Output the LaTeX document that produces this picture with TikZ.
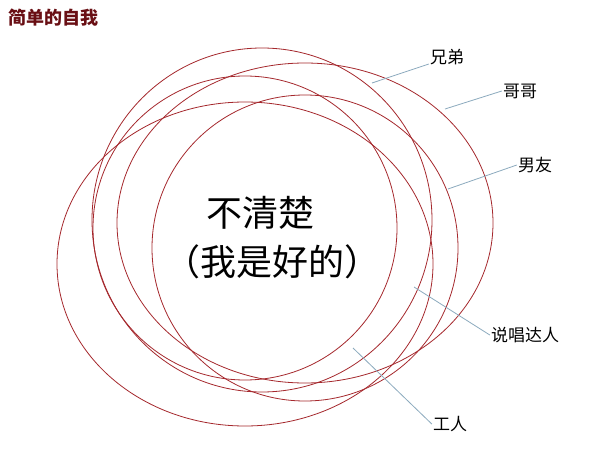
\documentclass[tikz,border=0pt]{standalone}
\usepackage{fontspec}
\newfontfamily\cjk{Noto Sans CJK SC}
\definecolor{ringred}{RGB}{165,40,45}
\definecolor{leadblue}{RGB}{140,170,190}
\definecolor{titlered}{RGB}{105,15,20}
\begin{document}
\begin{tikzpicture}[x=1pt,y=-1pt,
  ring/.style={draw=ringred,line width=0.8pt},
  lead/.style={draw=leadblue,line width=0.8pt},
  lab/.style={font=\cjk\fontsize{17}{17}\selectfont,inner sep=1pt,text=black},
  big/.style={font=\cjk\fontsize{36}{36}\selectfont,inner sep=0pt,text=black}]
\useasboundingbox (0,0) rectangle (600,468);
\fill[white] (0,0) rectangle (600,468);
% title
\node[font=\cjk\bfseries\fontsize{18}{18}\selectfont,text=titlered,anchor=west,inner sep=0pt] (title) at (8,18) {简单的自我};
% ellipses
\draw[ring] (262,220) ellipse [x radius=170pt, y radius=172pt]; % 兄弟
\draw[ring] (305,223) ellipse [x radius=188pt, y radius=160pt]; % 哥哥
\draw[ring] (305,248) ellipse [x radius=153pt, y radius=153pt]; % 男友
\draw[ring] (245,228) ellipse [x radius=152pt, y radius=152pt]; % 工人
\draw[ring] (245,264) ellipse [x radius=188pt, y radius=162pt];
% centre text
\node[big] (t1) at (260,213) {不清楚};
\node[big] (t2) at (272,262) {（我是好的）};
% labels
\node[lab] (xd) at (447,57) {兄弟};
\node[lab] (gg) at (520,91) {哥哥};
\node[lab] (ny) at (535,165) {男友};
\node[lab] (sc) at (525,335) {说唱达人};
\node[lab] (gr) at (450,424) {工人};
\coordinate (pxd) at (372,83);
\coordinate (pgg) at (445,109);
\coordinate (pny) at (448,189);
\coordinate (psc) at (414,287);
\coordinate (pgr) at (353,348);
\draw[lead] ([yshift=2pt]xd.south west) -- (pxd);
\draw[lead] (gg.west) -- (pgg);
\draw[lead] (ny.west) -- (pny);
\draw[lead] (sc.west) -- (psc);
\draw[lead] (gr.west) -- (pgr);
\end{tikzpicture}
\end{document}
